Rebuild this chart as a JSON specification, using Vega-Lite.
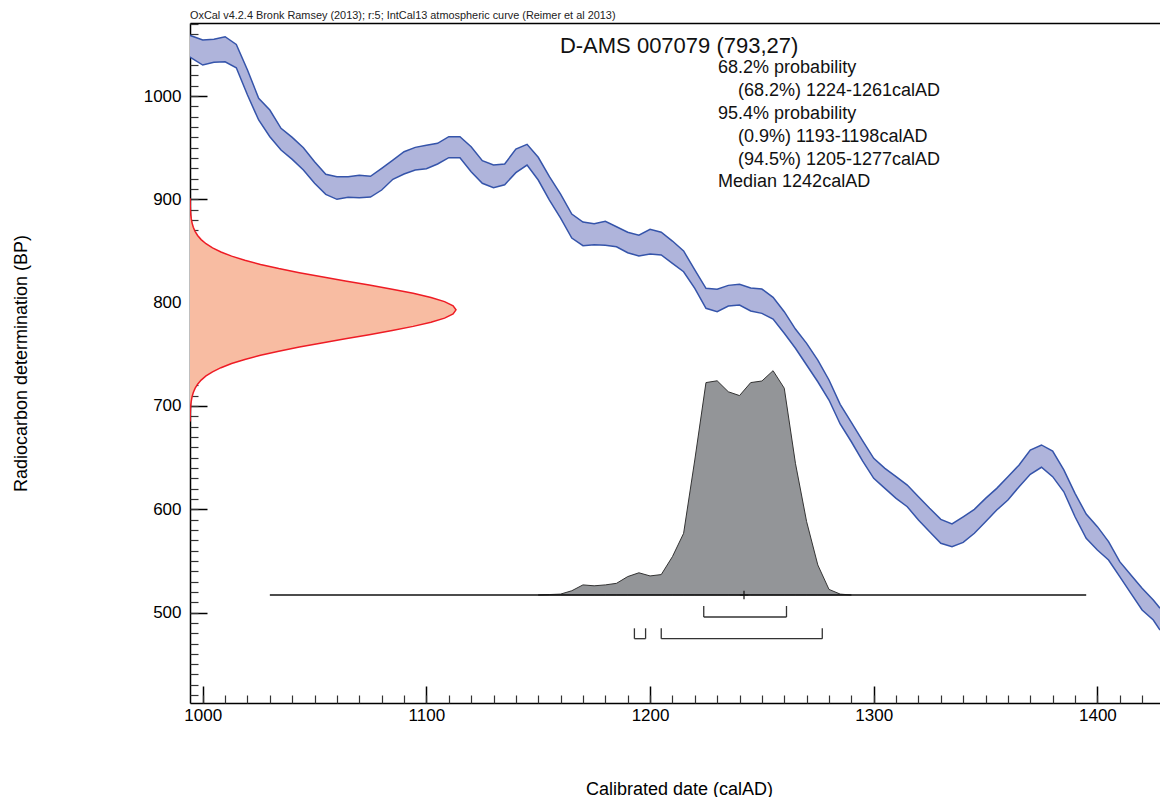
{
  "$schema": "https://vega.github.io/schema/vega-lite/v6.json",
  "width": 970,
  "height": 680,
  "autosize": {"type": "none"},
  "padding": {"left": 190, "top": 23, "right": 0, "bottom": 94},
  "background": "white",
  "config": {"font": "Liberation Sans", "view": {"stroke": null}},
  "title": {
    "text": "OxCal v4.2.4 Bronk Ramsey (2013); r:5; IntCal13 atmospheric curve (Reimer et al 2013)",
    "anchor": "start",
    "frame": "group",
    "font": "Liberation Sans",
    "fontSize": 10.9,
    "fontWeight": "normal",
    "color": "#222222",
    "offset": 2
  },
  "datasets": {
    "curve": [
      {"year": 994, "hi": 1059, "lo": 1038},
      {"year": 1000, "hi": 1054.2, "lo": 1030.0},
      {"year": 1005, "hi": 1054.9, "lo": 1032.6},
      {"year": 1010, "hi": 1057.4, "lo": 1033.2},
      {"year": 1015, "hi": 1050.0, "lo": 1027.4},
      {"year": 1020, "hi": 1025.2, "lo": 1001.0},
      {"year": 1025, "hi": 997.8, "lo": 976.8},
      {"year": 1030, "hi": 986.4, "lo": 960.6},
      {"year": 1035, "hi": 968.7, "lo": 947.7},
      {"year": 1040, "hi": 960.0, "lo": 938.7},
      {"year": 1045, "hi": 950.0, "lo": 928.4},
      {"year": 1050, "hi": 936.4, "lo": 915.5},
      {"year": 1055, "hi": 924.2, "lo": 904.8},
      {"year": 1060, "hi": 921.9, "lo": 900.0},
      {"year": 1065, "hi": 921.9, "lo": 901.9},
      {"year": 1070, "hi": 923.2, "lo": 901.5},
      {"year": 1075, "hi": 922.3, "lo": 902.2},
      {"year": 1080, "hi": 930.0, "lo": 909.0},
      {"year": 1085, "hi": 938.0, "lo": 919.4},
      {"year": 1090, "hi": 946.1, "lo": 924.5},
      {"year": 1095, "hi": 950.3, "lo": 928.4},
      {"year": 1100, "hi": 952.3, "lo": 929.6},
      {"year": 1105, "hi": 954.2, "lo": 934.2},
      {"year": 1110, "hi": 960.6, "lo": 940.3},
      {"year": 1115, "hi": 960.6, "lo": 940.3},
      {"year": 1120, "hi": 950.9, "lo": 926.7},
      {"year": 1125, "hi": 937.4, "lo": 915.5},
      {"year": 1130, "hi": 933.2, "lo": 911.2},
      {"year": 1135, "hi": 934.2, "lo": 914.1},
      {"year": 1140, "hi": 948.7, "lo": 925.8},
      {"year": 1145, "hi": 953.2, "lo": 933.2},
      {"year": 1150, "hi": 940.7, "lo": 918.7},
      {"year": 1155, "hi": 921.9, "lo": 899.3},
      {"year": 1160, "hi": 905.1, "lo": 881.9},
      {"year": 1165, "hi": 885.8, "lo": 862.5},
      {"year": 1170, "hi": 878.0, "lo": 855.1},
      {"year": 1175, "hi": 876.4, "lo": 856.1},
      {"year": 1180, "hi": 878.7, "lo": 855.5},
      {"year": 1185, "hi": 873.5, "lo": 854.1},
      {"year": 1190, "hi": 868.1, "lo": 848.3},
      {"year": 1195, "hi": 865.2, "lo": 845.1},
      {"year": 1200, "hi": 871.0, "lo": 847.0},
      {"year": 1205, "hi": 868.1, "lo": 846.1},
      {"year": 1210, "hi": 859.6, "lo": 838.0},
      {"year": 1215, "hi": 850.0, "lo": 829.9},
      {"year": 1220, "hi": 831.6, "lo": 813.8},
      {"year": 1225, "hi": 813.8, "lo": 794.5},
      {"year": 1230, "hi": 812.9, "lo": 791.2},
      {"year": 1235, "hi": 816.7, "lo": 796.7},
      {"year": 1240, "hi": 817.7, "lo": 797.7},
      {"year": 1245, "hi": 814.1, "lo": 791.9},
      {"year": 1250, "hi": 813.1, "lo": 789.6},
      {"year": 1255, "hi": 805.1, "lo": 784.1},
      {"year": 1260, "hi": 791.2, "lo": 770.3},
      {"year": 1265, "hi": 774.4, "lo": 755.8},
      {"year": 1270, "hi": 760.6, "lo": 739.6},
      {"year": 1275, "hi": 744.4, "lo": 723.4},
      {"year": 1280, "hi": 725.1, "lo": 705.7},
      {"year": 1285, "hi": 701.5, "lo": 682.5},
      {"year": 1290, "hi": 684.0, "lo": 665.3},
      {"year": 1295, "hi": 666.5, "lo": 646.7},
      {"year": 1300, "hi": 649.3, "lo": 629.9},
      {"year": 1305, "hi": 639.6, "lo": 620.2},
      {"year": 1310, "hi": 631.5, "lo": 610.5},
      {"year": 1315, "hi": 623.4, "lo": 602.4},
      {"year": 1320, "hi": 612.1, "lo": 589.5},
      {"year": 1325, "hi": 600.9, "lo": 578.2},
      {"year": 1330, "hi": 590.2, "lo": 567.0},
      {"year": 1335, "hi": 585.7, "lo": 563.7},
      {"year": 1340, "hi": 592.7, "lo": 567.9},
      {"year": 1345, "hi": 599.9, "lo": 576.7},
      {"year": 1350, "hi": 610.5, "lo": 587.9},
      {"year": 1355, "hi": 620.2, "lo": 599.2},
      {"year": 1360, "hi": 631.5, "lo": 608.9},
      {"year": 1365, "hi": 642.8, "lo": 621.8},
      {"year": 1370, "hi": 657.3, "lo": 633.8},
      {"year": 1375, "hi": 662.2, "lo": 640.6},
      {"year": 1380, "hi": 656.3, "lo": 631.5},
      {"year": 1385, "hi": 638.0, "lo": 616.9},
      {"year": 1390, "hi": 615.4, "lo": 592.7},
      {"year": 1395, "hi": 595.3, "lo": 571.8},
      {"year": 1400, "hi": 583.1, "lo": 560.5},
      {"year": 1405, "hi": 568.6, "lo": 550.8},
      {"year": 1410, "hi": 549.2, "lo": 534.7},
      {"year": 1415, "hi": 536.3, "lo": 518.6},
      {"year": 1420, "hi": 523.4, "lo": 502.4},
      {"year": 1425, "hi": 512.1, "lo": 492.7},
      {"year": 1428, "hi": 504.1, "lo": 483.1}
    ],
    "measurement": [
      {"bp": 685, "d": 0.00034}, {"bp": 689, "d": 0.0006}, {"bp": 693, "d": 0.00105}, {"bp": 697, "d": 0.0018},
      {"bp": 701, "d": 0.003}, {"bp": 705, "d": 0.0049}, {"bp": 709, "d": 0.0079}, {"bp": 713, "d": 0.0124},
      {"bp": 717, "d": 0.019}, {"bp": 721, "d": 0.0286}, {"bp": 725, "d": 0.0419}, {"bp": 729, "d": 0.0602},
      {"bp": 733, "d": 0.0847}, {"bp": 737, "d": 0.1164}, {"bp": 741, "d": 0.1565}, {"bp": 745, "d": 0.206},
      {"bp": 749, "d": 0.2651}, {"bp": 753, "d": 0.3337}, {"bp": 757, "d": 0.4111}, {"bp": 761, "d": 0.4954},
      {"bp": 765, "d": 0.5841}, {"bp": 769, "d": 0.6736}, {"bp": 773, "d": 0.7601}, {"bp": 777, "d": 0.839},
      {"bp": 781, "d": 0.906}, {"bp": 785, "d": 0.957}, {"bp": 789, "d": 0.9891}, {"bp": 793, "d": 1.0},
      {"bp": 797, "d": 0.9891}, {"bp": 801, "d": 0.957}, {"bp": 805, "d": 0.906}, {"bp": 809, "d": 0.839},
      {"bp": 813, "d": 0.7601}, {"bp": 817, "d": 0.6736}, {"bp": 821, "d": 0.5841}, {"bp": 825, "d": 0.4954},
      {"bp": 829, "d": 0.4111}, {"bp": 833, "d": 0.3337}, {"bp": 837, "d": 0.2651}, {"bp": 841, "d": 0.206},
      {"bp": 845, "d": 0.1565}, {"bp": 849, "d": 0.1164}, {"bp": 853, "d": 0.0847}, {"bp": 857, "d": 0.0602},
      {"bp": 861, "d": 0.0419}, {"bp": 865, "d": 0.0286}, {"bp": 869, "d": 0.019}, {"bp": 873, "d": 0.0124},
      {"bp": 877, "d": 0.0079}, {"bp": 881, "d": 0.0049}, {"bp": 885, "d": 0.003}, {"bp": 889, "d": 0.0018},
      {"bp": 893, "d": 0.00105}, {"bp": 897, "d": 0.0006}, {"bp": 901, "d": 0.00034}
    ],
    "posterior": [
      {"year": 1150, "p": 0}, {"year": 1155, "p": 0.002}, {"year": 1160, "p": 0.004}, {"year": 1165, "p": 0.019},
      {"year": 1170, "p": 0.045}, {"year": 1175, "p": 0.041}, {"year": 1180, "p": 0.045}, {"year": 1185, "p": 0.052},
      {"year": 1190, "p": 0.082}, {"year": 1195, "p": 0.099}, {"year": 1200, "p": 0.085}, {"year": 1205, "p": 0.091},
      {"year": 1210, "p": 0.171}, {"year": 1215, "p": 0.275}, {"year": 1220, "p": 0.602}, {"year": 1225, "p": 0.947},
      {"year": 1230, "p": 0.955}, {"year": 1235, "p": 0.906}, {"year": 1240, "p": 0.889}, {"year": 1245, "p": 0.947},
      {"year": 1250, "p": 0.954}, {"year": 1255, "p": 1.0}, {"year": 1260, "p": 0.922}, {"year": 1265, "p": 0.587},
      {"year": 1270, "p": 0.327}, {"year": 1275, "p": 0.134}, {"year": 1280, "p": 0.025}, {"year": 1285, "p": 0.004},
      {"year": 1290, "p": 0}
    ],
    "ranges": [
      {"level": "68.2%", "from": 1224, "to": 1261},
      {"level": "95.4%", "from": 1193, "to": 1198},
      {"level": "95.4%", "from": 1205, "to": 1277}
    ],
    "one": [{}]
  },
  "resolve": {"scale": {"x": "independent", "y": "independent"}},
  "layer": [
    {
      "data": {"name": "curve"},
      "resolve": {"axis": {"x": "independent", "y": "independent"}},
      "layer": [
        {
          "mark": {"type": "area", "color": "#AFB4DB", "opacity": 1, "clip": true},
          "encoding": {
            "x": {
              "field": "year", "type": "quantitative",
              "scale": {"domain": [994.3, 1428], "nice": false, "zero": false},
              "axis": {
                "orient": "bottom", "values": [1000, 1100, 1200, 1300, 1400], "format": "d",
                "grid": false, "tickSize": -17, "tickWidth": 1.5, "tickColor": "#000000",
                "domainColor": "#000000", "domainWidth": 1.5,
                "labelFontSize": 17, "labelPadding": 21, "labelColor": "#000000", "labelFlush": false, "labelOverlap": false,
                "title": "Calibrated date (calAD)", "titleFontSize": 18, "titleFontWeight": "normal", "titleColor": "#000000",
                "titleX": 489, "titleY": 77
              }
            },
            "y": {
              "field": "hi", "type": "quantitative",
              "scale": {"domain": [412.4, 1070.7], "nice": false, "zero": false},
              "axis": {
                "orient": "left", "values": [500, 600, 700, 800, 900, 1000], "format": "d",
                "grid": false, "tickSize": -17, "tickWidth": 1.5, "tickColor": "#000000",
                "domainColor": "#000000", "domainWidth": 1.5,
                "labelFontSize": 17, "labelPadding": 26, "labelColor": "#000000",
                "title": "Radiocarbon determination (BP)", "titleFontSize": 18, "titleFontWeight": "normal", "titleColor": "#000000",
                "titleX": -160
              }
            },
            "y2": {"field": "lo"}
          }
        },
        {
          "mark": {"type": "line", "color": "#3554AA", "strokeWidth": 1.5, "clip": true},
          "encoding": {
            "x": {
              "field": "year", "type": "quantitative",
              "axis": {
                "orient": "bottom", "values": [1000, 1010, 1020, 1030, 1040, 1050, 1060, 1070, 1080, 1090, 1100, 1110, 1120, 1130, 1140, 1150, 1160, 1170, 1180, 1190, 1200, 1210, 1220, 1230, 1240, 1250, 1260, 1270, 1280, 1290, 1300, 1310, 1320, 1330, 1340, 1350, 1360, 1370, 1380, 1390, 1400, 1410, 1420],
                "grid": false, "domain": false, "labels": false, "title": null,
                "tickSize": -8, "tickWidth": 1.2, "tickColor": "#333333"
              }
            },
            "y": {
              "field": "hi", "type": "quantitative",
              "axis": {
                "orient": "left", "values": [420, 430, 440, 450, 460, 470, 480, 490, 500, 510, 520, 530, 540, 550, 560, 570, 580, 590, 600, 610, 620, 630, 640, 650, 660, 670, 680, 690, 700, 710, 720, 730, 740, 750, 760, 770, 780, 790, 800, 810, 820, 830, 840, 850, 860, 870, 880, 890, 900, 910, 920, 930, 940, 950, 960, 970, 980, 990, 1000, 1010, 1020, 1030, 1040, 1050, 1060, 1070],
                "grid": false, "domain": false, "labels": false, "title": null,
                "tickSize": -8, "tickWidth": 1.2, "tickColor": "#333333"
              }
            }
          }
        },
        {
          "mark": {"type": "line", "color": "#3554AA", "strokeWidth": 1.5, "clip": true},
          "encoding": {
            "x": {
              "field": "year", "type": "quantitative",
              "axis": {"orient": "top", "grid": false, "ticks": false, "labels": false, "title": null, "domainColor": "#000000", "domainWidth": 1.5}
            },
            "y": {"field": "lo", "type": "quantitative", "axis": null}
          }
        },
        {
          "data": {"name": "one"},
          "mark": {"type": "text", "align": "center", "baseline": "alphabetic", "fontSize": 22, "color": "#111111"},
          "encoding": {
            "x": {"datum": 1213, "type": "quantitative", "axis": null},
            "y": {"datum": 1041.3, "type": "quantitative", "axis": null},
            "text": {"value": "D-AMS 007079 (793,27)"}
          }
        },
        {
          "data": {"name": "one"},
          "mark": {"type": "text", "align": "left", "baseline": "alphabetic", "fontSize": 18, "color": "#111111"},
          "encoding": {
            "x": {"datum": 1230.4, "type": "quantitative", "axis": null},
            "y": {"datum": 1022.0, "type": "quantitative", "axis": null},
            "text": {"value": "68.2% probability"}
          }
        },
        {
          "data": {"name": "one"},
          "mark": {"type": "text", "align": "left", "baseline": "alphabetic", "fontSize": 18, "color": "#111111"},
          "encoding": {
            "x": {"datum": 1239.3, "type": "quantitative", "axis": null},
            "y": {"datum": 999.9, "type": "quantitative", "axis": null},
            "text": {"value": "(68.2%) 1224-1261calAD"}
          }
        },
        {
          "data": {"name": "one"},
          "mark": {"type": "text", "align": "left", "baseline": "alphabetic", "fontSize": 18, "color": "#111111"},
          "encoding": {
            "x": {"datum": 1230.4, "type": "quantitative", "axis": null},
            "y": {"datum": 977.8, "type": "quantitative", "axis": null},
            "text": {"value": "95.4% probability"}
          }
        },
        {
          "data": {"name": "one"},
          "mark": {"type": "text", "align": "left", "baseline": "alphabetic", "fontSize": 18, "color": "#111111"},
          "encoding": {
            "x": {"datum": 1239.3, "type": "quantitative", "axis": null},
            "y": {"datum": 955.8, "type": "quantitative", "axis": null},
            "text": {"value": "(0.9%) 1193-1198calAD"}
          }
        },
        {
          "data": {"name": "one"},
          "mark": {"type": "text", "align": "left", "baseline": "alphabetic", "fontSize": 18, "color": "#111111"},
          "encoding": {
            "x": {"datum": 1239.3, "type": "quantitative", "axis": null},
            "y": {"datum": 933.7, "type": "quantitative", "axis": null},
            "text": {"value": "(94.5%) 1205-1277calAD"}
          }
        },
        {
          "data": {"name": "one"},
          "mark": {"type": "text", "align": "left", "baseline": "alphabetic", "fontSize": 18, "color": "#111111"},
          "encoding": {
            "x": {"datum": 1230.4, "type": "quantitative", "axis": null},
            "y": {"datum": 911.6, "type": "quantitative", "axis": null},
            "text": {"value": "Median 1242calAD"}
          }
        }
      ]
    },
    {
      "data": {"name": "measurement"},
      "layer": [
        {
          "mark": {"type": "area", "orient": "horizontal", "color": "#F8BCA2", "opacity": 1, "clip": true},
          "encoding": {
            "x": {"field": "d", "type": "quantitative", "scale": {"domain": [0, 3.6466], "nice": false, "zero": false}, "axis": null},
            "x2": {"datum": 0},
            "y": {"field": "bp", "type": "quantitative", "scale": {"domain": [412.4, 1070.7], "nice": false, "zero": false}, "axis": null}
          }
        },
        {
          "mark": {"type": "line", "color": "#EE1C25", "strokeWidth": 1.5, "clip": true},
          "encoding": {
            "x": {"field": "d", "type": "quantitative", "axis": null},
            "y": {"field": "bp", "type": "quantitative", "axis": null},
            "order": {"field": "bp", "type": "quantitative"}
          }
        }
      ]
    },
    {
      "layer": [
        {
          "data": {"name": "posterior"},
          "mark": {"type": "area", "color": "#939598", "opacity": 1, "stroke": "#333333", "strokeWidth": 1, "clip": true},
          "encoding": {
            "x": {"field": "year", "type": "quantitative", "scale": {"domain": [994.3, 1428], "nice": false, "zero": false}, "axis": null},
            "y": {"field": "p", "type": "quantitative", "scale": {"domain": [-0.4815, 2.5501], "nice": false, "zero": false}, "axis": null},
            "y2": {"datum": 0}
          }
        },
        {
          "data": {"name": "one"},
          "mark": {"type": "rule", "color": "#111111", "strokeWidth": 1.3},
          "encoding": {
            "x": {"datum": 1030, "type": "quantitative", "axis": null},
            "x2": {"datum": 1395},
            "y": {"datum": 0, "type": "quantitative", "axis": null}
          }
        },
        {
          "data": {"name": "one"},
          "mark": {"type": "point", "shape": "M-1,0H1M0,-1V1", "size": 70, "filled": false, "color": "#111111", "strokeWidth": 1.2, "opacity": 1},
          "encoding": {
            "x": {"datum": 1242, "type": "quantitative", "axis": null},
            "y": {"datum": 0, "type": "quantitative", "axis": null}
          }
        },
        {
          "data": {"name": "ranges"},
          "transform": [{"filter": "datum.level == '68.2%'"}],
          "mark": {"type": "rule", "color": "#333333", "strokeWidth": 1.3},
          "encoding": {
            "x": {"field": "from", "type": "quantitative", "axis": null},
            "x2": {"field": "to"},
            "y": {"datum": -0.0981, "type": "quantitative", "axis": null}
          }
        },
        {
          "data": {"name": "ranges"},
          "transform": [{"filter": "datum.level == '68.2%'"}, {"fold": ["from", "to"], "as": ["end", "yr"]}],
          "mark": {"type": "rule", "color": "#333333", "strokeWidth": 1.3},
          "encoding": {
            "x": {"field": "yr", "type": "quantitative", "axis": null},
            "y": {"datum": -0.0981, "type": "quantitative", "axis": null},
            "y2": {"datum": -0.049}
          }
        },
        {
          "data": {"name": "ranges"},
          "transform": [{"filter": "datum.level == '95.4%'"}],
          "mark": {"type": "rule", "color": "#333333", "strokeWidth": 1.3},
          "encoding": {
            "x": {"field": "from", "type": "quantitative", "axis": null},
            "x2": {"field": "to"},
            "y": {"datum": -0.1948, "type": "quantitative", "axis": null}
          }
        },
        {
          "data": {"name": "ranges"},
          "transform": [{"filter": "datum.level == '95.4%'"}, {"fold": ["from", "to"], "as": ["end", "yr"]}],
          "mark": {"type": "rule", "color": "#333333", "strokeWidth": 1.3},
          "encoding": {
            "x": {"field": "yr", "type": "quantitative", "axis": null},
            "y": {"datum": -0.1948, "type": "quantitative", "axis": null},
            "y2": {"datum": -0.1485}
          }
        }
      ]
    }
  ]
}
